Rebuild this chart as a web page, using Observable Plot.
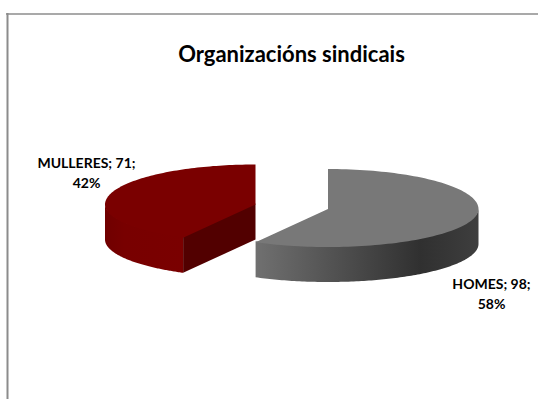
<!DOCTYPE html>
<html>
<head>
<meta charset="utf-8">
<script src="https://cdn.jsdelivr.net/npm/d3@7"></script>
<script src="https://cdn.jsdelivr.net/npm/@observablehq/plot@0.6"></script>
<style>html,body{margin:0;padding:0;background:#fff}svg{display:block}</style>
</head>
<body>
<script>
const title = "Organizacións sindicais";
const categories = ["HOMES", "MULLERES"];
const values = [98, 71];
const percents = [58, 42];

const total = d3.sum(values);
const cut = values[0] / total * 2 * Math.PI;
const ry = 40, ryFront = 38, rx = 150.5, depth = 35;
const pt = (c, a, dy = 0) => {
  const down = -Math.cos(a);
  return {x: c.x + rx * Math.sin(a), y: c.y + down * (down > 0 ? ryFront : ry) + dy};
};
const arc = (c, a0, a1, dy = 0) => d3.range(0, 121).map(i => pt(c, a0 + (a1 - a0) * i / 120, dy));

const grayC = {x: 327.5, y: 208.5};
const redC = {x: 255, y: 204};

const grayTop = [grayC, ...arc(grayC, 0, cut)];
const grayWall = [...arc(grayC, Math.PI / 2, cut, -1), ...arc(grayC, cut, Math.PI / 2, depth)];
const redTop = [redC, ...arc(redC, cut, 2 * Math.PI)];
const redWall = [...arc(redC, cut, 1.5 * Math.PI, -1), ...arc(redC, 1.5 * Math.PI, cut, depth)];
const cp = pt(redC, cut);
const redFace = [{x: redC.x, y: redC.y - 1}, {x: cp.x, y: cp.y - 1}, {x: cp.x, y: cp.y + depth}, {x: redC.x, y: redC.y + depth}];

const shape = (pts, fill) => Plot.line(pts, {x: "x", y: "y", fill, stroke: "none"});

const gradient = (id, stops) => () => {
  const defs = d3.create("svg:defs");
  const g = defs.append("linearGradient").attr("id", id);
  stops.forEach(([o, c]) => g.append("stop").attr("offset", o).attr("stop-color", c));
  return defs.node();
};

const labels = categories.map((c, i) => ({
  text: `${c}; ${values[i]};\n${percents[i]}%`,
  x: [491, 86][i],
  y: [292.5, 171][i]
}));

const chart = Plot.plot({
  width: 538,
  height: 399,
  margin: 0,
  x: {domain: [0, 538], range: [0, 538], axis: null},
  y: {domain: [0, 399], range: [0, 399], axis: null},
  style: {background: "#fff", fontFamily: "Lato"},
  marks: [
    gradient("grayGrad", [[0, "#707070"], [0.74, "#303030"], [1, "#3e3e3e"]]),
    gradient("redGrad", [[0, "#700000"], [0.25, "#780000"], [1, "#7a0000"]]),
    Plot.ruleY([13.5], {x1: 6, x2: 538, stroke: "#8c8c8c", strokeWidth: 1.5}),
    Plot.ruleX([7], {y1: 13, y2: 399, stroke: "#8c8c8c", strokeWidth: 2}),
    shape(grayWall, "url(#grayGrad)"),
    shape(grayTop, "#787878"),
    shape(redWall, "url(#redGrad)"),
    shape(redFace, "#520000"),
    shape(redTop, "#7a0000"),
    Plot.text([title], {x: () => 291, y: () => 54, text: d => d, fontSize: 22, fontWeight: 700, fill: "#000"}),
    Plot.text(labels, {x: "x", y: "y", text: "text", fontSize: 14, fontWeight: 700, lineHeight: 1.4, fill: "#000"})
  ]
});
document.body.append(chart);
</script>
</body>
</html>
